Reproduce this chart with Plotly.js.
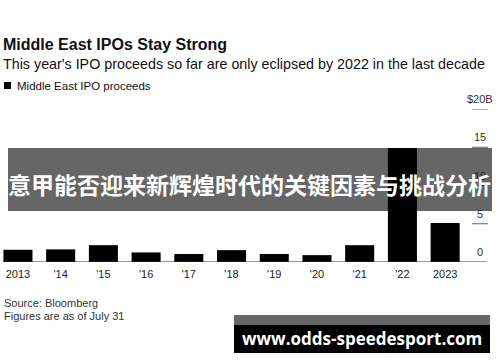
<!DOCTYPE html>
<html>
<head>
<meta charset="utf-8">
<script src="https://cdn.plot.ly/plotly-3.0.1.min.js"></script>
<style>html,body{margin:0;padding:0;background:#fff;}#chart{width:500px;height:362px;}</style>
</head>
<body>
<div id="chart"></div>
<script>
// ---- data ----
const years = ["2013", "'14", "'15", "'16", "'17", "'18", "'19", "'20", "'21", "'22", "2023"];
const proceeds = [1.6, 1.65, 2.2, 1.25, 1.05, 1.55, 1.05, 0.9, 2.2, 14.9, 5.1];
const yTickVals = [0, 5, 10, 15, 20];
const yTickText = ["0", "5", "10", "15", "$20B"];

const titleText = "Middle East IPOs Stay Strong";
const subtitleText = "This year's IPO proceeds so far are only eclipsed by 2022 in the last decade";
const legendText = "Middle East IPO proceeds";
const sourceLines = ["Source: Bloomberg", "Figures are as of July 31"];
const bannerText = "意甲能否迎来新辉煌时代的关键因素与挑战分析";
const watermarkText = "www.odds-speedesport.com";

// ---- layout geometry helpers (pixel -> paper) ----
const W = 500, H = 362;
const M = {l: 0, r: 13, t: 109, b: 100};
const PW = W - M.l - M.r, PH = H - M.t - M.b;
const px = x => (x - M.l) / PW;
const py = y => (H - M.b - y) / PH;
const yPix = v => H - M.b - v / 20 * PH;

const FONT = "Liberation Sans, Arial, sans-serif";
const BANNER = {top: 148, bottom: 211, left: 8, right: 492};

const shapes = [];
const annotations = [];

// short tick dashes at right
yTickVals.forEach((v, i) => {
  if (v === 0) return;
  shapes.push({type: 'line', xref: 'paper', yref: 'y', x0: px(472), x1: px(488), y0: v, y1: v,
    line: {color: '#666', width: 1}});
});
yTickVals.forEach((v, i) => {
  const yc = yPix(v) - 9;
  const under = yc > BANNER.top && yc < BANNER.bottom;
  annotations.push({xref: 'paper', yref: 'y', x: px(480), y: v, yanchor: 'bottom', xanchor: 'center',
    yshift: 2, text: yTickText[i], showarrow: false,
    font: {family: FONT, size: 11, color: under ? '#222' : '#333'}});
});
// baseline
shapes.push({type: 'line', xref: 'paper', yref: 'y', x0: px(3), x1: px(487), y0: 0, y1: 0,
  line: {color: '#333', width: 1}});

// legend marker + text
shapes.push({type: 'rect', xref: 'paper', yref: 'paper', x0: px(4), x1: px(11), y0: py(89), y1: py(82),
  fillcolor: '#000', line: {width: 0}});
annotations.push({xref: 'paper', yref: 'paper', x: px(15), y: py(86), xanchor: 'left', yanchor: 'middle',
  text: legendText, showarrow: false, font: {family: FONT, size: 11.5, color: '#111'}});

// subtitle
annotations.push({xref: 'paper', yref: 'paper', x: px(1), y: py(64), xanchor: 'left', yanchor: 'middle',
  text: subtitleText, showarrow: false, font: {family: FONT, size: 14.3, color: '#111'}});

// source lines
sourceLines.forEach((s, i) => {
  annotations.push({xref: 'paper', yref: 'paper', x: px(2), y: py(303 + i * 13), xanchor: 'left', yanchor: 'middle',
    text: s, showarrow: false, font: {family: FONT, size: 11, color: '#333'}});
});

// overlay banner
shapes.push({type: 'rect', xref: 'paper', yref: 'paper', layer: 'above',
  x0: px(BANNER.left), x1: px(BANNER.right), y0: py(BANNER.bottom), y1: py(BANNER.top),
  fillcolor: 'rgba(0,0,0,0.6)', line: {width: 0}});
annotations.push({xref: 'paper', yref: 'paper', x: px(250), y: py(184), xanchor: 'center', yanchor: 'middle',
  text: '<b>' + bannerText + '</b>', showarrow: false,
  font: {family: '"Noto Sans CJK SC", sans-serif', size: 23, color: '#fff'}});

// watermark
shapes.push({type: 'rect', xref: 'paper', yref: 'paper', layer: 'above', x0: px(234), x1: px(490), y0: py(325), y1: py(315),
  fillcolor: '#666', line: {width: 0}});
shapes.push({type: 'rect', xref: 'paper', yref: 'paper', layer: 'above', x0: px(234), x1: px(490), y0: py(353), y1: py(325),
  fillcolor: '#000', line: {width: 0}});
annotations.push({xref: 'paper', yref: 'paper', x: px(362), y: py(338), xanchor: 'center', yanchor: 'middle',
  text: '<b>' + watermarkText + '</b>', showarrow: false,
  font: {family: 'Open Sans, sans-serif', size: 17, color: '#fff'}});

const trace = {
  type: 'bar', x: years, y: proceeds, width: 0.68,
  marker: {color: '#000', line: {width: 0}},
  hoverinfo: 'skip'
};

const layout = {
  width: W, height: H,
  margin: M,
  paper_bgcolor: '#fff', plot_bgcolor: '#fff',
  showlegend: false,
  title: {text: '<b>' + titleText + '</b>', x: 3 / W, xanchor: 'left', xref: 'container',
    y: 1 - 44 / H, yanchor: 'middle', yref: 'container',
    font: {family: FONT, size: 16, color: '#111'}},
  xaxis: {type: 'category', range: [-0.42, 10.98], showgrid: false, zeroline: false, showline: false,
    ticks: '', ticklabelstandoff: 4, tickfont: {family: FONT, size: 11, color: '#222'}, fixedrange: true},
  yaxis: {range: [0, 20], showgrid: false, zeroline: false, showline: false, showticklabels: false,
    ticks: '', fixedrange: true},
  shapes: shapes,
  annotations: annotations
};

Plotly.newPlot('chart', [trace], layout, {displayModeBar: false, staticPlot: true});
</script>
</body>
</html>
